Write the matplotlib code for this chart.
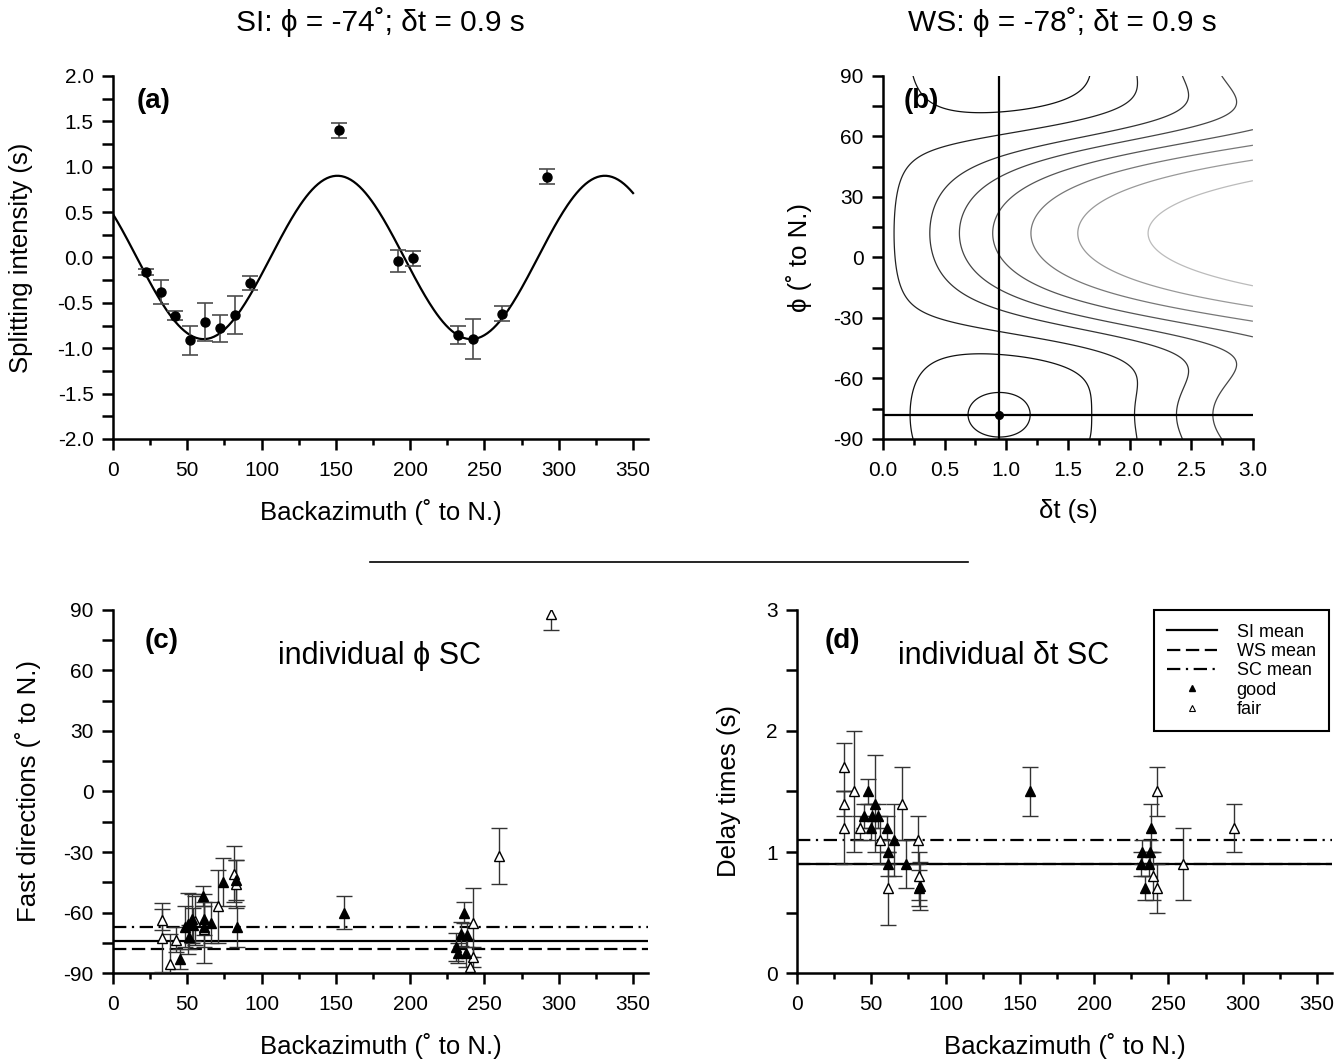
import matplotlib
matplotlib.use('Agg')
import matplotlib.pyplot as plt, numpy as np
from matplotlib.lines import Line2D
from matplotlib.ticker import MultipleLocator, FormatStrFormatter

plt.rcParams['font.family'] = ['Liberation Sans', 'DejaVu Sans']
plt.rcParams['axes.unicode_minus'] = False

# ---- (a) splitting intensity ----
si_phi = -74.0
si_dt = 0.9
baz_si = [22, 32, 42, 52, 62, 72, 82, 92, 152, 192, 202, 232, 242, 262, 292]
si = [-0.16, -0.38, -0.64, -0.91, -0.71, -0.78, -0.63, -0.28, 1.40, -0.04, -0.01, -0.85, -0.90, -0.62, 0.89]
si_err = [0.03, 0.13, 0.05, 0.16, 0.21, 0.15, 0.21, 0.08, 0.08, 0.12, 0.08, 0.10, 0.22, 0.08, 0.08]

# ---- (b) Wolfe-Silver stack ----
ws_phi = -78.0
ws_dt = 0.9
ws_dt_grid_min = 0.94
# where each closed contour crosses the phi=ws_phi row (left side)
loop_dt = [0.69, 0.22]
# where each open contour has its nose on the phi=ws_phi+90 row
nose_dt = [0.09, 0.38, 0.62, 0.89, 1.20, 1.58, 2.15]
level_grays = ['#111111', '#111111', '#222222', '#333333', '#444444', '#555555', '#777777', '#999999', '#bbbbbb']

# ---- (c),(d) individual SC measurements ----
sc_phi = -67.0
sc_dt = 1.1

good_baz_c = [45.1, 48.5, 50.2, 51.4, 52.9, 54.0, 60.8, 61.2, 61.5, 65.7, 73.8, 82.6, 83.7, 155.7, 230.8, 232.0, 234.0, 236.2, 237.6, 238.0]
good_phi = [-83, -67, -65.5, -72, -63, -66, -52, -63, -67, -65, -45, -44, -67, -60, -77, -80, -70.5, -60, -80, -71]
good_phi_err = [5, 10, 15, 6, 12, 8, 5, 8, 10, 10, 12, 10, 10, 8, 7, 5, 6, 5, 7, 6]
fair_baz_c = [32.8, 32.8, 38.4, 42.2, 55.5, 61.2, 70.9, 81.4, 82.6, 240.2, 242.0, 242.0, 260.0, 294.7]
fair_phi = [-63.5, -72.5, -85.7, -73.4, -64, -68, -57, -41, -46, -87, -65, -82, -32, 88]
fair_phi_err = [5, 17, 15, 6, 12, 17, 18, 14, 12, 5, 17, 5, 14, 8]

good_baz_d = [44.9, 47.8, 49.9, 50.5, 52.8, 54.3, 60.6, 61.3, 61.3, 65.6, 73.6, 82.4, 83.0, 156.7, 231.3, 232.0, 234.0, 236.9, 237.4, 238.1]
good_dt = [1.3, 1.5, 1.2, 1.3, 1.4, 1.3, 1.2, 1.0, 0.9, 1.1, 0.9, 0.7, 0.72, 1.5, 0.9, 1.0, 0.7, 0.9, 1.0, 1.2]
good_dt_err = [0.1, 0.1, 0.1, 0.1, 0.4, 0.1, 0.1, 0.1, 0.1, 0.3, 0.2, 0.15, 0.2, 0.2, 0.1, 0.1, 0.1, 0.1, 0.1, 0.2]
fair_baz_d = [31.9, 31.9, 31.9, 38.2, 42.2, 55.7, 61.3, 70.7, 81.3, 81.9, 239.6, 242.6, 242.6, 260.1, 294.0]
fair_dt = [1.7, 1.4, 1.2, 1.5, 1.2, 1.1, 0.7, 1.4, 1.1, 0.8, 0.8, 1.5, 0.7, 0.9, 1.2]
fair_dt_err = [0.2, 0.1, 0.3, 0.5, 0.1, 0.2, 0.3, 0.3, 0.2, 0.2, 0.2, 0.2, 0.2, 0.3, 0.2]

FS_TICK = 15
FS_LAB = 18.5
FS_PANEL = 20
DASHED = (0, (6, 2.5))
DASHDOT = (0, (6, 2.5, 1, 2.5))


def style(ax, ylab_x):
    for s in ['top', 'right']:
        ax.spines[s].set_visible(False)
    for s in ['left', 'bottom']:
        ax.spines[s].set_linewidth(1.8)
    ax.tick_params(which='both', direction='out', width=1.8, labelsize=FS_TICK)
    ax.tick_params(which='major', length=8)
    ax.tick_params(axis='x', which='both', pad=8)
    ax.tick_params(axis='y', which='both', pad=6)
    ax.tick_params(axis='x', which='minor', length=4)
    ax.tick_params(axis='y', which='minor', length=8)
    ax.xaxis.set_label_coords(0.5, -0.165)
    ax.yaxis.set_label_coords(ylab_x, 0.5)


fig = plt.figure(figsize=(13.37, 10.59), dpi=100)
ax_a = fig.add_axes([0.0845, 0.5855, 0.4001, 0.3428])
ax_b = fig.add_axes([0.6604, 0.5855, 0.2767, 0.3428])
ax_c = fig.add_axes([0.0845, 0.0812, 0.4001, 0.3428])
ax_d = fig.add_axes([0.5961, 0.0812, 0.4001, 0.3428])

# (a)
baz_line = np.arange(0, 351)
ax_a.plot(baz_line, si_dt * np.sin(2 * np.radians(baz_line - si_phi)), color='k', lw=1.6)
ax_a.errorbar(baz_si, si, yerr=si_err, fmt='o', color='k', ms=6.5, ecolor='0.3',
              elinewidth=1.2, capsize=6, capthick=1.2)
ax_a.set_xlim(0, 360)
ax_a.set_ylim(-2, 2)
ax_a.xaxis.set_major_locator(MultipleLocator(50))
ax_a.xaxis.set_minor_locator(MultipleLocator(25))
ax_a.yaxis.set_major_locator(MultipleLocator(0.5))
ax_a.yaxis.set_minor_locator(MultipleLocator(0.25))
ax_a.yaxis.set_major_formatter(FormatStrFormatter('%.1f'))
ax_a.set_xlabel('Backazimuth (˚ to N.)', fontsize=FS_LAB)
ax_a.set_ylabel('Splitting intensity (s)', fontsize=FS_LAB)
ax_a.text(0.045, 0.93, '(a)', transform=ax_a.transAxes, fontsize=FS_PANEL, fontweight='bold', va='center')
style(ax_a, -0.150)

# (b) misfit surface of the stack
k, b = 0.25, 0.45
dt_grid, phi_grid = np.meshgrid(np.linspace(0, 3, 301), np.linspace(-90, 90, 361))
f = np.sin(k * dt_grid) / k
f0 = np.sin(k * ws_dt_grid_min) / k
th = np.radians(2 * (phi_grid - ws_phi))
energy = np.sqrt((f * np.cos(th) - f0) ** 2 + b * (f * np.sin(th)) ** 2)
levels = [f0 - np.sin(k * d) / k for d in loop_dt] + [f0 + np.sin(k * d) / k for d in nose_dt]
ax_b.contour(dt_grid, phi_grid, energy, levels=levels, colors=level_grays, linewidths=0.9)
ax_b.axvline(ws_dt_grid_min, color='k', lw=1.6)
ax_b.axhline(ws_phi, color='k', lw=1.6)
ax_b.plot(ws_dt_grid_min, ws_phi, 'o', color='k', ms=5.5)
ax_b.set_xlim(0, 3)
ax_b.set_ylim(-90, 90)
ax_b.xaxis.set_major_locator(MultipleLocator(0.5))
ax_b.xaxis.set_minor_locator(MultipleLocator(0.25))
ax_b.xaxis.set_major_formatter(FormatStrFormatter('%.1f'))
ax_b.yaxis.set_major_locator(MultipleLocator(30))
ax_b.yaxis.set_minor_locator(MultipleLocator(15))
ax_b.set_xlabel('δt (s)', fontsize=FS_LAB)
ax_b.set_ylabel('ϕ (˚ to N.)', fontsize=FS_LAB)
ax_b.text(0.057, 0.93, '(b)', transform=ax_b.transAxes, fontsize=FS_PANEL, fontweight='bold', va='center')
style(ax_b, -0.192)

# (c)
ax_c.axhline(si_phi, color='k', lw=1.6)
ax_c.axhline(ws_phi, color='k', lw=1.6, linestyle=DASHED)
ax_c.axhline(sc_phi, color='k', lw=1.6, linestyle=DASHDOT)
ax_c.errorbar(fair_baz_c, fair_phi, yerr=fair_phi_err, fmt='^', mfc='white', mec='k', ms=7,
              ecolor='0.2', elinewidth=1, capsize=5.5, capthick=1, zorder=3)
ax_c.errorbar(good_baz_c, good_phi, yerr=good_phi_err, fmt='^', mfc='k', mec='k', ms=7,
              ecolor='0.2', elinewidth=1, capsize=5.5, capthick=1, zorder=3)
ax_c.set_xlim(0, 360)
ax_c.set_ylim(-90, 90)
ax_c.xaxis.set_major_locator(MultipleLocator(50))
ax_c.xaxis.set_minor_locator(MultipleLocator(25))
ax_c.yaxis.set_major_locator(MultipleLocator(30))
ax_c.yaxis.set_minor_locator(MultipleLocator(15))
ax_c.set_xlabel('Backazimuth (˚ to N.)', fontsize=FS_LAB)
ax_c.set_ylabel('Fast directions (˚ to N.)', fontsize=FS_LAB)
ax_c.text(0.06, 0.915, '(c)', transform=ax_c.transAxes, fontsize=FS_PANEL, fontweight='bold', va='center')
ax_c.text(0.499, 0.873, 'individual ϕ SC', transform=ax_c.transAxes, fontsize=22, ha='center', va='center')
style(ax_c, -0.135)

# (d)
ax_d.axhline(ws_dt, color='k', lw=1.6, linestyle=DASHED)
ax_d.axhline(si_dt, color='k', lw=1.6)
ax_d.axhline(sc_dt, color='k', lw=1.6, linestyle=DASHDOT)
ax_d.errorbar(fair_baz_d, fair_dt, yerr=fair_dt_err, fmt='^', mfc='white', mec='k', ms=7,
              ecolor='0.2', elinewidth=1, capsize=5.5, capthick=1, zorder=3)
ax_d.errorbar(good_baz_d, good_dt, yerr=good_dt_err, fmt='^', mfc='k', mec='k', ms=7,
              ecolor='0.2', elinewidth=1, capsize=5.5, capthick=1, zorder=3)
ax_d.set_xlim(0, 360)
ax_d.set_ylim(0, 3)
ax_d.xaxis.set_major_locator(MultipleLocator(50))
ax_d.xaxis.set_minor_locator(MultipleLocator(25))
ax_d.yaxis.set_major_locator(MultipleLocator(1))
ax_d.yaxis.set_minor_locator(MultipleLocator(0.5))
ax_d.set_xlabel('Backazimuth (˚ to N.)', fontsize=FS_LAB)
ax_d.set_ylabel('Delay times (s)', fontsize=FS_LAB)
ax_d.text(0.052, 0.915, '(d)', transform=ax_d.transAxes, fontsize=FS_PANEL, fontweight='bold', va='center')
ax_d.text(0.387, 0.873, 'individual δt SC', transform=ax_d.transAxes, fontsize=22, ha='center', va='center')
handles = [Line2D([], [], color='k', lw=1.6),
           Line2D([], [], color='k', lw=1.6, linestyle=DASHED),
           Line2D([], [], color='k', lw=1.6, linestyle=DASHDOT),
           Line2D([], [], marker='^', color='k', ls='none', ms=5),
           Line2D([], [], marker='^', mfc='white', mec='k', mew=0.8, ls='none', ms=5)]
leg = ax_d.legend(handles, ['SI mean', 'WS mean', 'SC mean', 'good', 'fair'], loc='upper right',
                  bbox_to_anchor=(0.995, 1.0), borderaxespad=0, fontsize=13, handlelength=2.75,
                  handletextpad=1.1, labelspacing=0.13, borderpad=0.75,
                  fancybox=False, edgecolor='k', framealpha=1)
leg.get_frame().set_linewidth(1.5)
style(ax_d, -0.105)

fig.text(380 / 1337, 1 - 22 / 1059, 'SI: ϕ = -74˚; δt = 0.9 s', fontsize=21.5, ha='center', va='center')
fig.text(1062 / 1337, 1 - 22 / 1059, 'WS: ϕ = -78˚; δt = 0.9 s', fontsize=21.5, ha='center', va='center')
fig.add_artist(Line2D([370 / 1337, 968 / 1337], [1 - 562 / 1059, 1 - 562 / 1059],
                      transform=fig.transFigure, color='k', lw=1.2))

fig.savefig('out.png', dpi=100)
